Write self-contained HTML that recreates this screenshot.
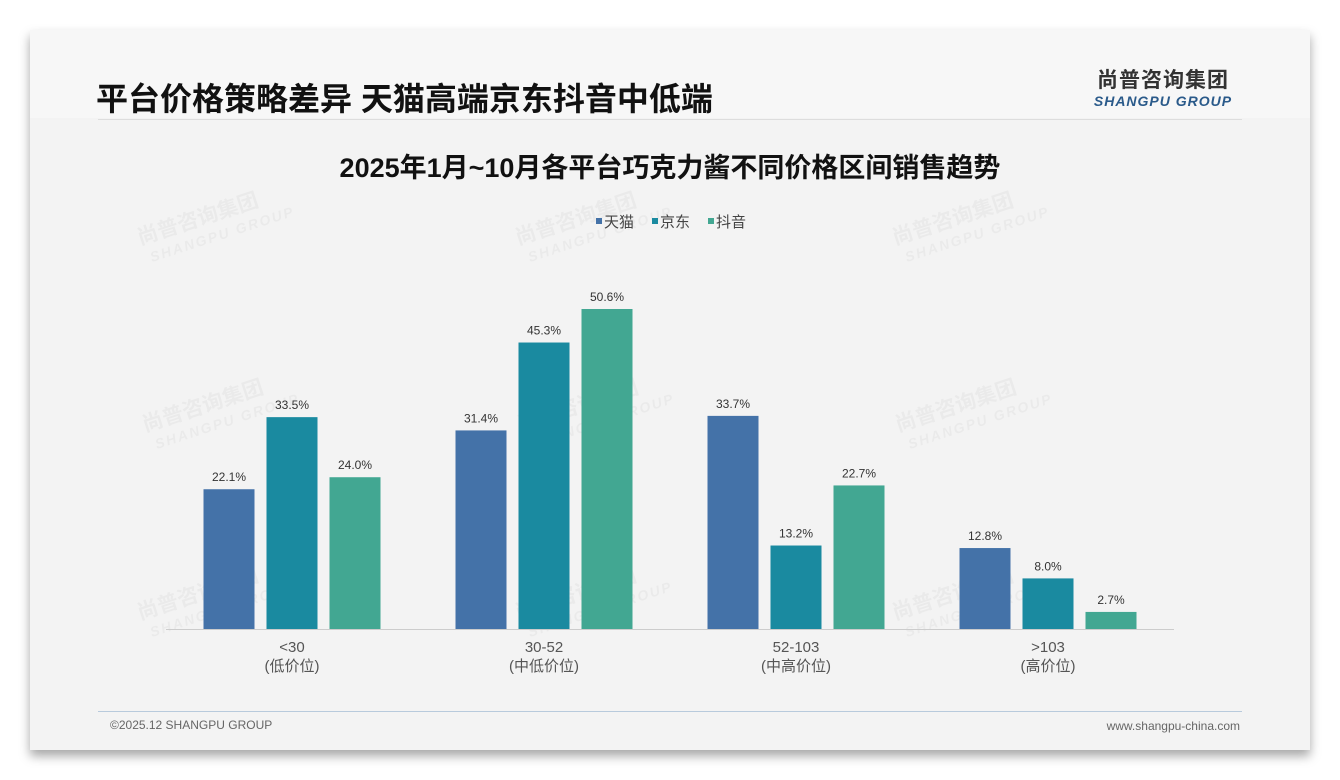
<!DOCTYPE html>
<html><head><meta charset="utf-8">
<style>
body{margin:0;width:1340px;height:780px;background:#fff;position:relative;overflow:hidden;font-family:"Liberation Sans","Noto Sans CJK SC",sans-serif;}
#card{position:absolute;left:30px;top:30px;width:1280px;height:720px;background:#f3f3f3;box-shadow:0 6px 10px rgba(0,0,0,0.35);}
</style></head><body>
<div id="card">
 <div style="position:absolute;left:0;top:0;width:1280px;height:88px;background:#f7f7f7"></div>
 <div style="position:absolute;left:66px;top:44px;font-size:32px;font-weight:bold;color:#111;white-space:nowrap">平台价格策略差异 天猫高端京东抖音中低端</div>
 <div style="position:absolute;left:1050px;top:34px;text-align:center;width:166px;white-space:nowrap">
  <div style="font-size:21px;font-weight:bold;color:#333;letter-spacing:1px">尚普咨询集团</div>
  <div style="font-size:14px;font-weight:bold;font-style:italic;color:#2a5a8a;letter-spacing:1px;margin-top:-1px">SHANGPU GROUP</div>
 </div>
 <div style="position:absolute;left:68px;top:89px;width:1144px;height:1px;background:#ddd"></div>
 <div style="position:absolute;left:68px;top:681px;width:1144px;height:1px;background:#b8cadc"></div>
 <div style="position:absolute;left:80px;top:688px;font-size:12px;color:#666">©2025.12 SHANGPU GROUP</div>
 <div style="position:absolute;right:70px;top:689px;font-size:12px;color:#666">www.shangpu-china.com</div>
</div>
<svg id="chart" width="1340" height="780" style="position:absolute;left:0;top:0" font-family="Liberation Sans, Noto Sans CJK SC, sans-serif"></svg>
<script>
const categories=['<30','30-52','52-103','>103'];
const subLabels=['(低价位)','(中低价位)','(中高价位)','(高价位)'];
const seriesNames=['天猫','京东','抖音'];
const tmall=[22.1,31.4,33.7,12.8];
const jd=[33.5,45.3,13.2,8.0];
const douyin=[24.0,50.6,22.7,2.7];
const colors=['#4472a8','#1a8aa0','#42a792'];
const series=[tmall,jd,douyin];
const svg=document.getElementById('chart');
const NS='http://www.w3.org/2000/svg';
const base=629, scale=320/50.6, x0=166, step=252;
function y(v){return base-v*scale;}
function gx(i){return x0+step*i+step/2;}
function mk(t,a){const e=document.createElementNS(NS,t);for(const k in a)e.setAttribute(k,a[k]);svg.appendChild(e);return e;}
[[140,245],[518,245],[895,245],[145,432],[520,432],[898,432],[140,620],[518,620],[895,620]].forEach(p=>{
 const g=mk('g',{transform:`translate(${p[0]},${p[1]}) rotate(-18)`,fill:'rgba(0,0,0,0.035)','font-weight':'bold'});
 
 
 const t1=document.createElementNS(NS,'text');t1.setAttribute('font-size','21');t1.textContent='尚普咨询集团';g.appendChild(t1);
 const t2=document.createElementNS(NS,'text');t2.setAttribute('font-size','14');t2.setAttribute('y','20');t2.setAttribute('x','6');t2.setAttribute('font-style','italic');t2.setAttribute('letter-spacing','2');t2.textContent='SHANGPU GROUP';g.appendChild(t2);
});
let t=mk('text',{x:670,y:177,'text-anchor':'middle','font-size':27,'font-weight':'bold',fill:'#111'});


t.textContent='2025年1月~10月各平台巧克力酱不同价格区间销售趋势';
const lx=[596,652,708];
seriesNames.forEach((n,i)=>{
 const r=mk('rect',{x:lx[i],y:218,width:6,height:6,fill:colors[i]});
 
 
 const tt=mk('text',{x:lx[i]+8,y:227,'font-size':15,fill:'#444'});
 
 
 tt.textContent=n;
});
const ax=mk('line',{x1:x0,x2:x0+step*4,y1:base+0.5,y2:base+0.5,stroke:'#ccc','stroke-width':1});


categories.forEach((c,i)=>{
 series.forEach((s,j)=>{
  const cx=gx(i)+(j-1)*63;
  const r=mk('rect',{x:cx-25.5,y:y(s[i]),width:51,height:s[i]*scale,fill:colors[j]});
  
  
  const l=mk('text',{x:cx,y:y(s[i])-8,'text-anchor':'middle','font-size':12,fill:'#333'});
  
  
  l.textContent=s[i].toFixed(1)+'%';
 });
 const a=mk('text',{x:gx(i),y:652,'text-anchor':'middle','font-size':15,fill:'#555'});
 
 
 a.textContent=c;
 const b=mk('text',{x:gx(i),y:671,'text-anchor':'middle','font-size':15,fill:'#555'});
 
 
 b.textContent=subLabels[i];
});
</script>
</body></html>
